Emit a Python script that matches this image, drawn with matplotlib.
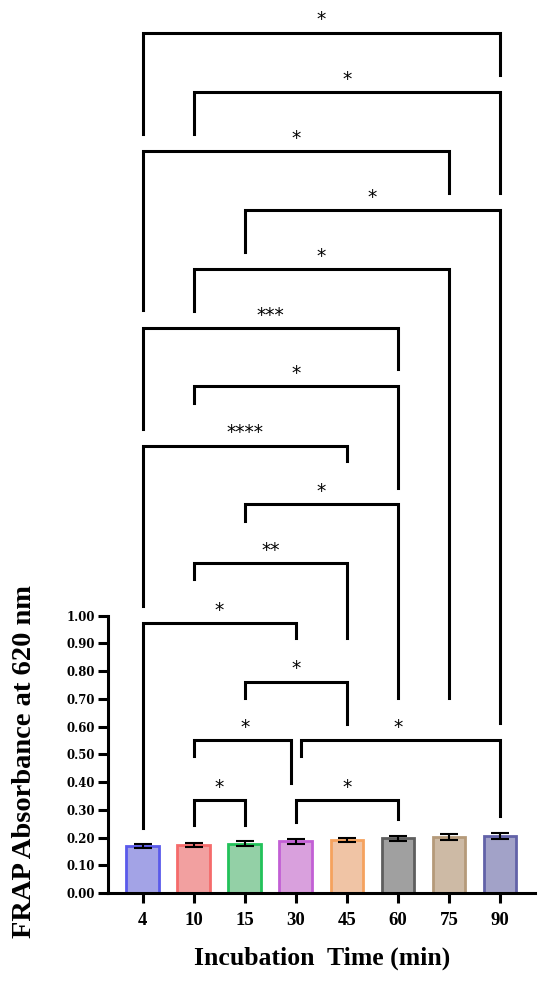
import numpy as np
import matplotlib
matplotlib.use("Agg")
import matplotlib.pyplot as plt

# Bar data
times = ["4", "10", "15", "30", "45", "60", "75", "90"]
means = [0.170, 0.173, 0.177, 0.186, 0.192, 0.198, 0.202, 0.206]
errors = [0.008, 0.008, 0.009, 0.008, 0.007, 0.009, 0.011, 0.011]

fill_colors = ["#a3a3e6", "#f2a0a0", "#93d0a6", "#d9a0dd",
               "#f0c4a5", "#a0a0a0", "#cdbaa5", "#a2a2c8"]
edge_colors = ["#5a5aeb", "#f56b6b", "#22c25a", "#c25fd5",
               "#f5a25e", "#5e5e5e", "#b59a7a", "#6262a8"]

# Significance brackets: (left group, right group, label)
pairs = [(0, 7, "*"), (1, 7, "*"), (0, 6, "*"), (2, 7, "*"),
         (1, 6, "*"), (0, 5, "***"), (1, 5, "*"), (0, 4, "****"),
         (2, 5, "*"), (1, 4, "**"), (0, 3, "*"), (2, 4, "*"),
         (1, 3, "*"), (3, 7, "*"), (1, 2, "*"), (3, 5, "*")]
# bracket top height, left leg end, right leg end (data units)
bar_top = [3.102, 2.887, 2.676, 2.463, 2.250, 2.036, 1.828, 1.613,
           1.402, 1.189, 0.973, 0.762, 0.552, 0.552, 0.335, 0.335]
left_end = [2.736, 2.736, 2.102, 2.311, 2.099, 1.673, 1.766, 1.035,
            1.343, 1.131, 0.235, 0.704, 0.494, 0.494, 0.245, 0.257]
right_end = [2.949, 2.525, 2.525, 0.613, 0.703, 1.889, 1.459, 1.558,
             0.702, 0.918, 0.918, 0.609, 0.398, 0.278, 0.245, 0.267]
# small sideways nudges where two brackets share a leg
left_shift = [0, 0, 0, 0, 0, 0, 0, 0, 0, 0, 0, 0, 0, 0.11, 0, 0]
right_shift = [0, 0, 0, 0, 0, 0, 0, 0, 0, 0, 0, 0, -0.1, 0, 0, 0]

fig = plt.figure(figsize=(5.5, 9.81), dpi=100)
ax = fig.add_axes([0.197, 0.0897, 0.776, 0.9046])

x = np.arange(len(times))
ax.bar(x, means, width=0.64, color=fill_colors, edgecolor=edge_colors,
       linewidth=2.0, zorder=2)
ax.errorbar(x, means, yerr=errors, fmt="none", ecolor="black",
            elinewidth=1.5, capsize=6.5, capthick=1.5, zorder=3)

for i, (a, b, lab) in enumerate(pairs):
    xa = a + left_shift[i]
    xb = b + right_shift[i]
    ax.plot([xa, xa, xb, xb], [left_end[i], bar_top[i], bar_top[i], right_end[i]],
            color="black", lw=2.2, solid_joinstyle="miter", clip_on=False, zorder=4)
    ax.text((a + b) / 2, bar_top[i] + 0.012, lab, ha="center", va="bottom",
            fontsize=13.5, family="DejaVu Sans", clip_on=False)

ax.set_xlim(-0.674, 7.69)
ax.set_ylim(0, 3.2)
ax.set_yticks(np.arange(0, 1.01, 0.1))
ax.set_yticklabels(["%.2f" % v for v in np.arange(0, 1.01, 0.1)],
                   family="DejaVu Serif", fontweight="bold", fontsize=8.5)
ax.set_xticks(x)
ax.set_xticklabels(times, family="Liberation Serif", fontweight="bold", fontsize=13.5)

ax.spines["top"].set_visible(False)
ax.spines["right"].set_visible(False)
ax.spines["left"].set_bounds(0, 1)
ax.spines["left"].set_linewidth(2.2)
ax.spines["bottom"].set_linewidth(2.2)
ax.tick_params(axis="y", length=7.5, width=2.2, pad=2)
ax.tick_params(axis="x", length=7, width=2.2, pad=7)

ax.set_xlabel("Incubation  Time (min)", family="Liberation Serif",
              fontweight="bold", fontsize=18.5, labelpad=12)
ax.set_ylabel("FRAP Absorbance at 620 nm", family="Liberation Serif",
              fontweight="bold", fontsize=20.5)
ax.yaxis.set_label_coords(-0.167, 0.148)

fig.savefig("out.png", dpi=100)
